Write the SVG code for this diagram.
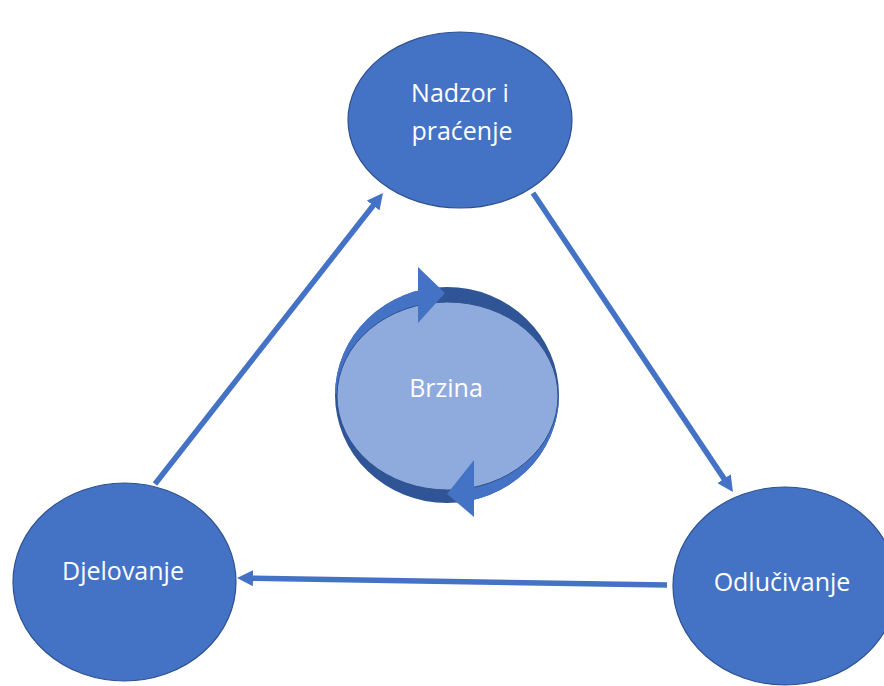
<svg xmlns="http://www.w3.org/2000/svg" width="884" height="686" viewBox="0 0 884 686">
<style>
.node{fill:#4472C4;stroke:#2F528F;stroke-width:1.2}
.lbl{font-family:"Open Sans","Liberation Sans",sans-serif;font-size:25px;fill:#FFFFFF;text-anchor:middle}
.conn{stroke:#4472C4;stroke-width:5.5;fill:none;marker-end:url(#ah)}
.med{fill:#4472C4}
.dark{fill:#2F5597}
</style>
<defs>
<marker id="ah" markerUnits="userSpaceOnUse" viewBox="0 -8 16 16" markerWidth="16" markerHeight="16" refX="2" refY="0" orient="auto">
<path d="M0,-8 L16,0 L0,8 z" fill="#4472C4"/>
</marker>
<clipPath id="ring">
<ellipse cx="447" cy="395" rx="112" ry="108"/>
</clipPath>
</defs>
<rect width="884" height="686" fill="#FFFFFF"/>
<g id="connectors">
<line class="conn" x1="155" y1="484" x2="374.4" y2="204"/>
<line class="conn" x1="533" y1="193" x2="725.2" y2="480.4"/>
<line class="conn" x1="667" y1="585" x2="251" y2="578.2"/>
</g>
<g id="node-nadzor">
<ellipse class="node" cx="460" cy="120" rx="112" ry="88"/>
<text class="lbl" x="460" y="102">Nadzor i</text>
<text class="lbl" x="462" y="140">praćenje</text>
</g>
<g id="node-djelovanje">
<ellipse class="node" cx="124.5" cy="582" rx="111.5" ry="99"/>
<text class="lbl" x="123" y="580">Djelovanje</text>
</g>
<g id="node-odlucivanje">
<ellipse class="node" cx="785" cy="586" rx="112" ry="99"/>
<text class="lbl" x="782" y="591">Odlučivanje</text>
</g>
<g id="node-brzina">
<g clip-path="url(#ring)">
<rect class="dark" x="330" y="280" width="240" height="230"/>
<rect class="med" x="330" y="280" width="89" height="114"/>
<rect class="med" x="473" y="398" width="90" height="112"/>
</g>
<ellipse cx="447.5" cy="396" rx="110.5" ry="94" fill="#8FAADC" stroke="#2F528F" stroke-width="1"/>
<path class="med" d="M418,267 L445,293 L418,323 z"/>
<path class="med" d="M474,460 L447,494 L474,517 z"/>
<text class="lbl" x="446" y="397">Brzina</text>
</g>
</svg>
